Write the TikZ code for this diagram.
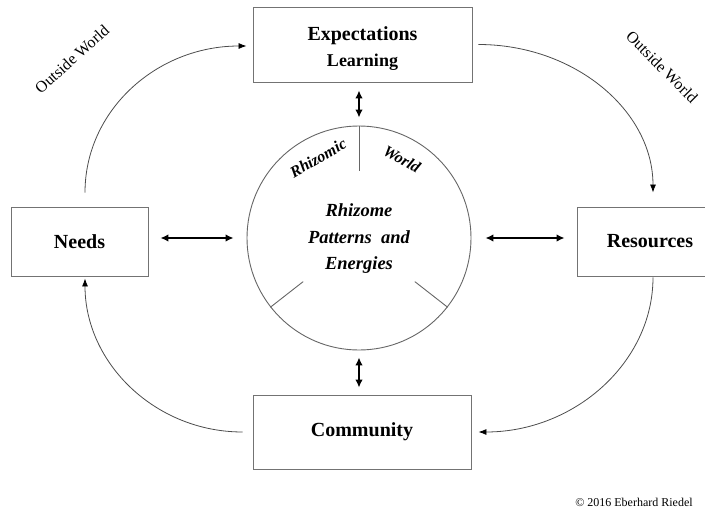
\documentclass[tikz,border=0pt]{standalone}
\usepackage{fontspec}
\setmainfont{Liberation Serif}
\usetikzlibrary{arrows.meta,calc}
\begin{document}
\begin{tikzpicture}[x=1pt,y=-1pt,
  box/.style={draw=black!55,line width=0.9pt,inner sep=0pt,align=center,
    font=\fontsize{20}{24}\selectfont\bfseries},
  ring/.style={draw=black!60,line width=0.9pt,circle,inner sep=0pt,minimum size=224pt},
  spoke/.style={draw=black!60,line width=0.9pt},
  dblarrow/.style={line width=1.4pt,{Latex[length=8pt,width=7.5pt]}-{Latex[length=8pt,width=7.5pt]}},
  cycle/.style={draw=black!70,line width=0.8pt,-{Latex[length=8pt,width=6pt,color=black]}},
  outer/.style={font=\fontsize{16}{18}\selectfont},
  inner/.style={font=\fontsize{16}{18}\selectfont\bfseries\itshape}]
\useasboundingbox (0,0) rectangle (705,514);

% the four boxes
\node[box,minimum width=219pt,minimum height=75pt] (exp) at (362.5,44.5) {};
\node[align=center,font=\fontsize{20}{24}\selectfont\bfseries] (expt)
  at ([yshift=-4.5pt]exp.center)
  {Expectations\\[2pt]{\fontsize{18}{20}\selectfont Learning}};
\node[box,minimum width=137pt,minimum height=69pt] (needs) at (79.5,241.5) {Needs};
\node[box,minimum width=146pt,minimum height=69pt] (res) at (650,241.5) {Resources};
\node[box,minimum width=218pt,minimum height=74pt] (comm) at (362,432) {Community};

% the central circle and its three spokes
\node[ring] (rz) at (359,238) {};
\draw[spoke] (rz.north) -- ($(rz.center)!0.6!(rz.north)$);
\draw[spoke] (rz.218) -- ($(rz.center)!0.63!(rz.218)$);
\draw[spoke] (rz.322) -- ($(rz.center)!0.63!(rz.322)$);
\node[align=center,font=\fontsize{18.5}{26.5}\selectfont\bfseries\itshape] (core)
  at ([yshift=-1pt]rz.center) {Rhizome\\Patterns~ and\\Energies};
\node[inner,rotate=30] (rzl) at (318,158) {Rhizomic};
\node[inner,rotate=-29] (rzw) at (402,159) {World};

% exchanges between the boxes and the circle
\draw[dblarrow] ([xshift=12pt]needs.east |- rz.center) -- ([xshift=-13pt]rz.west);
\draw[dblarrow] ([xshift=14pt]rz.east) -- ([xshift=-12pt]res.west |- rz.center);
\draw[dblarrow] ([yshift=-8pt]exp.south -| rz.north) -- ([yshift=8pt]rz.north);
\draw[dblarrow] ([yshift=-7pt]rz.south) -- ([yshift=7pt]comm.north -| rz.south);

% the outer cycle
\draw[cycle] ([xshift=5.5pt,yshift=14pt]needs.north)
  .. controls +(0,-82) and +(-90,0) .. ([xshift=-6pt,yshift=-1.5pt]exp.west);
\draw[cycle] ([xshift=6pt]exp.east)
  .. controls +(96,0) and +(0,-82) .. ([xshift=3pt,yshift=14pt]res.north);
\draw[cycle] ([xshift=3pt,yshift=-1pt]res.south)
  .. controls +(0,85) and +(96,0) .. ([xshift=7pt]comm.east);
\draw[cycle] ([xshift=-10pt]comm.west)
  .. controls +(-87,0) and +(0,85) .. ([xshift=5.5pt,yshift=-2pt]needs.south);

% labels
\node[outer,rotate=42] (owl) at (72,59) {Outside World};
\node[outer,rotate=-45] (owr) at (662,67) {Outside World};
\node[font=\fontsize{12}{14}\selectfont] (copy) at (634,502) {© 2016 Eberhard Riedel};
\end{tikzpicture}
\end{document}
